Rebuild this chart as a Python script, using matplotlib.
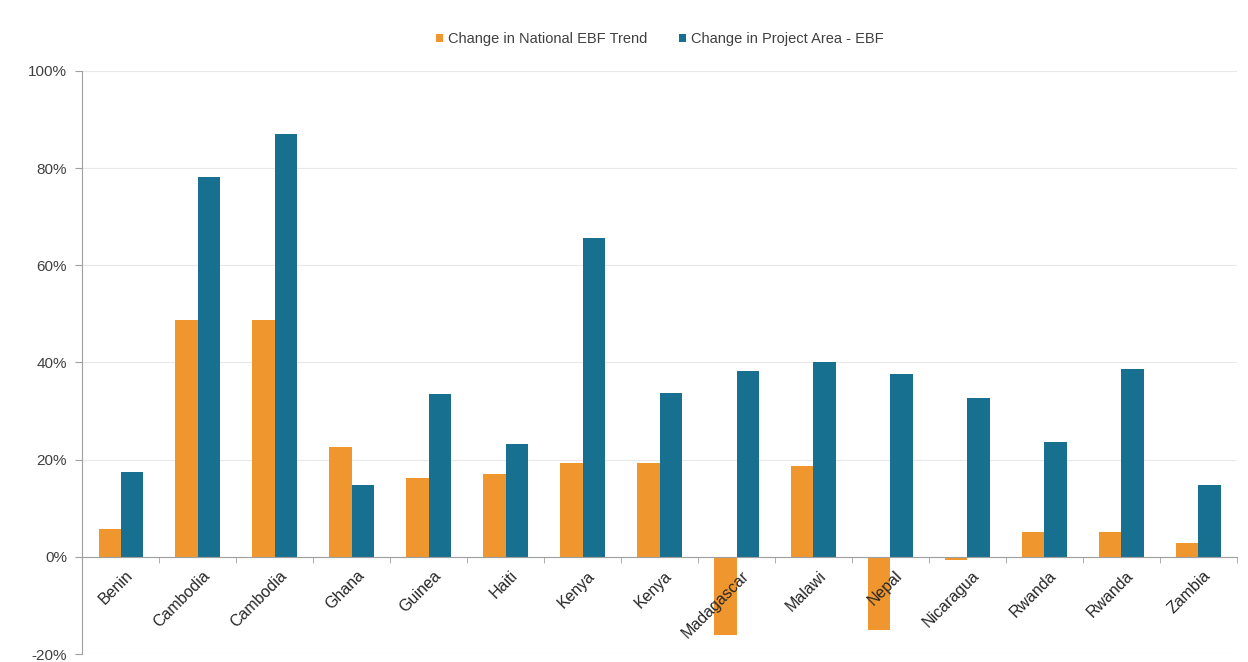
import numpy as np
import matplotlib.pyplot as plt
from matplotlib.ticker import PercentFormatter

plt.rcParams['font.family'] = ['Liberation Sans', 'DejaVu Sans']
plt.rcParams['axes.unicode_minus'] = False

countries = ['Benin', 'Cambodia', 'Cambodia', 'Ghana', 'Guinea', 'Haiti', 'Kenya', 'Kenya',
             'Madagascar', 'Malawi', 'Nepal', 'Nicaragua', 'Rwanda', 'Rwanda', 'Zambia']
national = [5.8, 48.8, 48.8, 22.6, 16.3, 17.0, 19.3, 19.3, -16.0, 18.7, -15.0, -0.7, 5.1, 5.1, 2.9]
project = [17.5, 78.2, 87.0, 14.8, 33.5, 23.2, 65.6, 33.7, 38.3, 40.0, 37.6, 32.7, 23.6, 38.7, 14.8]

orange = '#F0962E'
blue = '#17708F'
txt = '#404040'

fig = plt.figure(figsize=(12.48, 6.62), dpi=100)
ax = fig.add_axes([0.066, 0.012, 0.925, 0.881])

x = np.arange(len(countries))
w = 0.29
ax.bar(x - w / 2, national, w, color=orange, label='Change in National EBF Trend', zorder=3)
ax.bar(x + w / 2, project, w, color=blue, label='Change in Project Area - EBF', zorder=3)

ax.set_xlim(-0.5, len(countries) - 0.5)
ax.set_ylim(-20, 100)
ax.set_yticks(range(-20, 101, 20))
ax.yaxis.set_major_formatter(PercentFormatter(decimals=0))
ax.grid(axis='y', color='#E8E8E8', linewidth=0.8, zorder=0)

for s in ['top', 'right']:
    ax.spines[s].set_visible(False)
ax.spines['left'].set_color('#A0A0A0')
ax.spines['bottom'].set_position(('data', 0))
ax.spines['bottom'].set_color('#A0A0A0')
ax.spines['bottom'].set_zorder(4)
# category names sit on top of the negative bars
ax.xaxis.set_zorder(5)

ax.set_xticks(x + 0.06)
ax.set_xticklabels(countries, rotation=45, ha='right', rotation_mode='anchor')
ax.set_xticks(np.arange(-0.5, len(countries), 1), minor=True)
ax.tick_params(axis='x', which='major', length=0, pad=8, labelsize=11.5, labelcolor='#262626')
ax.tick_params(axis='x', which='minor', length=4, color='#A0A0A0')
ax.tick_params(axis='y', length=5, color='#A0A0A0', labelsize=11, labelcolor=txt, pad=6)

ax.legend(loc='lower center', bbox_to_anchor=(0.5, 1.02), ncol=2, frameon=False,
          fontsize=10.5, handlelength=0.5, handleheight=0.5, handletextpad=0.3,
          columnspacing=2.2, labelcolor=txt)

fig.savefig('out.png', dpi=100)
